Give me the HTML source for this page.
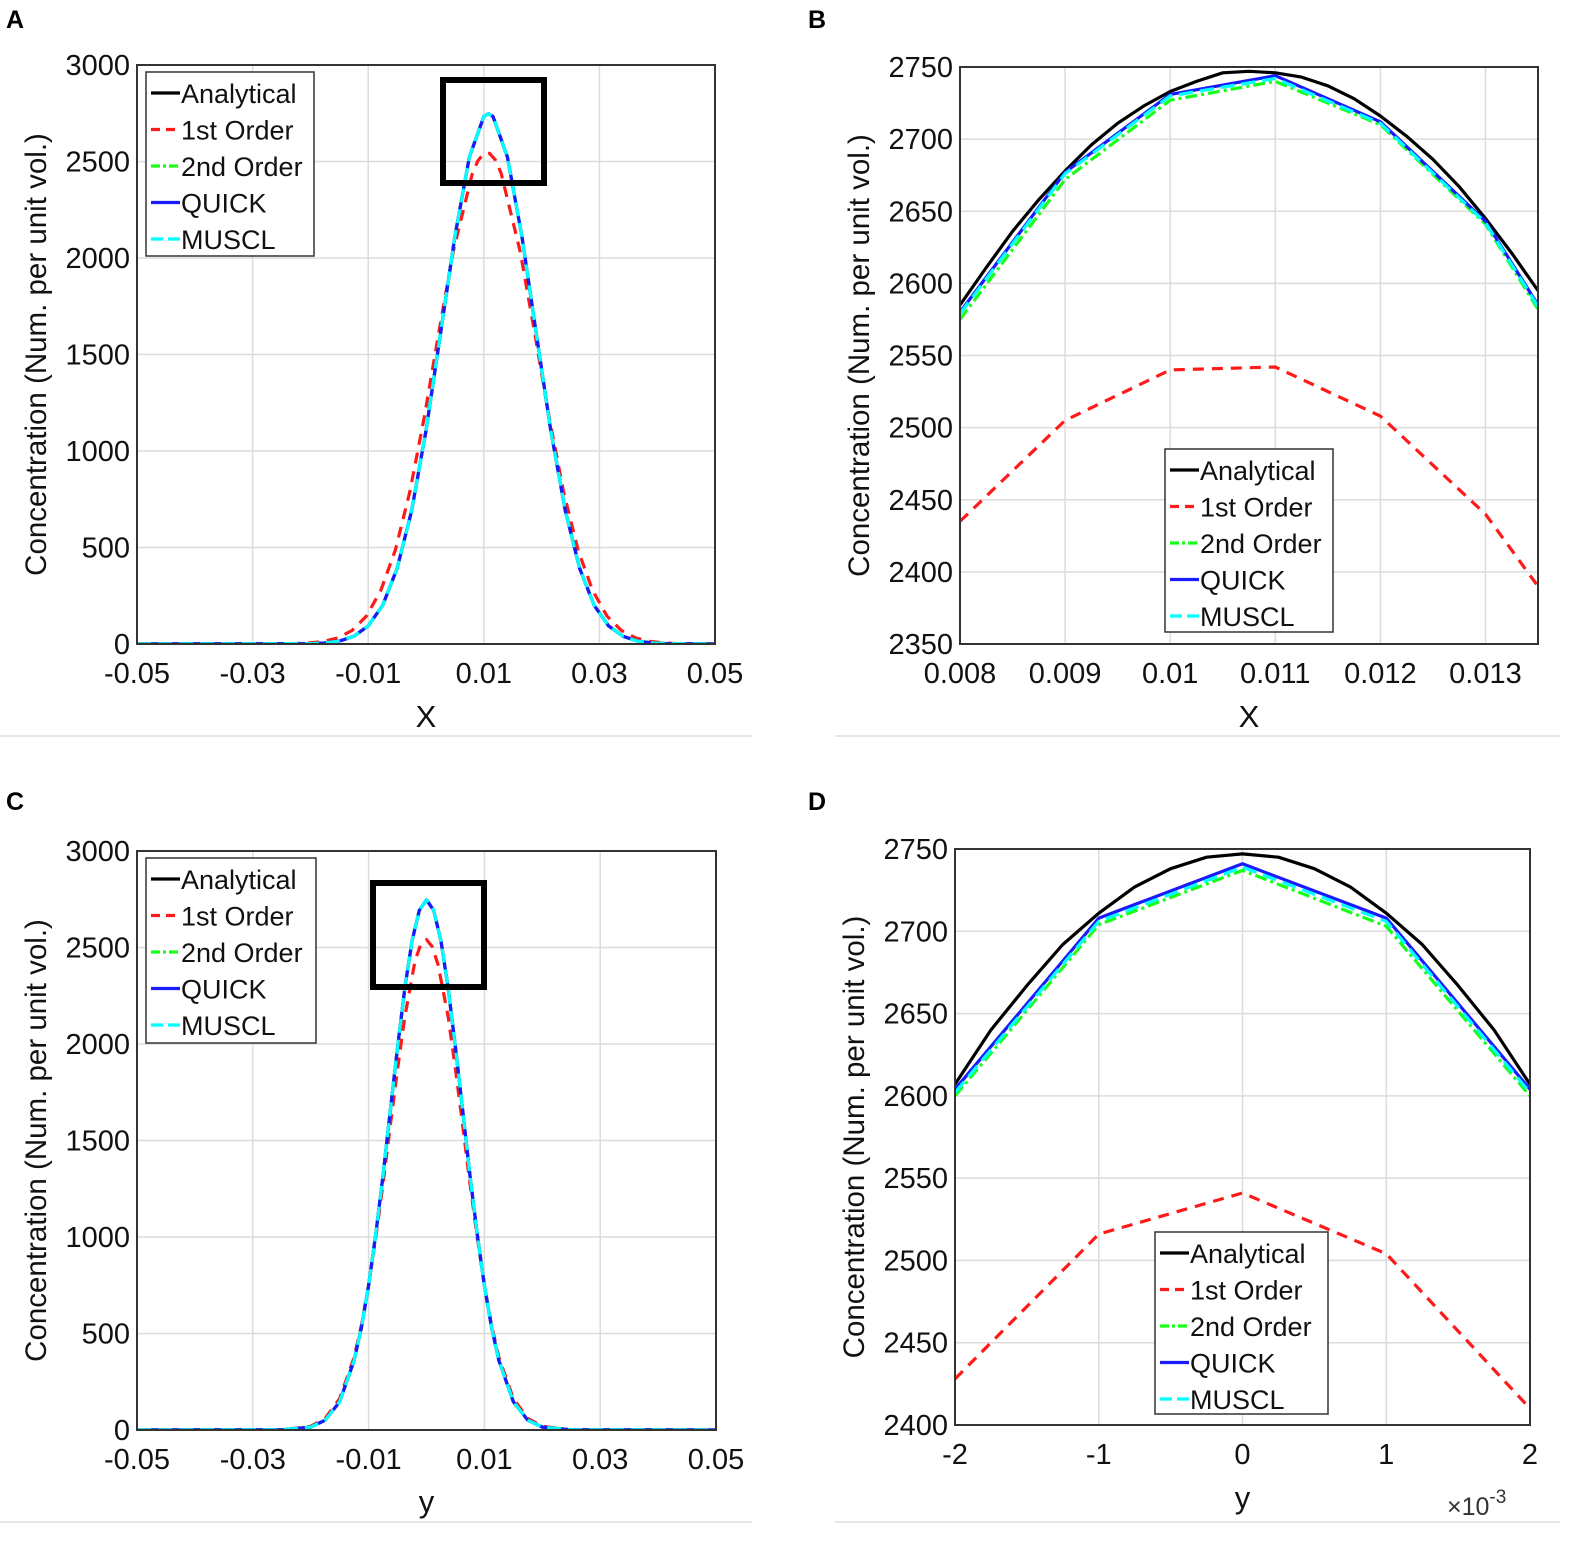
<!DOCTYPE html>
<html><head><meta charset="utf-8"><style>
body{margin:0;background:#fff}
svg{display:block;font-family:"Liberation Sans",Arial,sans-serif}
</style></head><body>
<svg id="fig" width="1581" height="1541" viewBox="0 0 1581 1541" xmlns="http://www.w3.org/2000/svg">
<line x1="0" y1="736" x2="752" y2="736" stroke="#e6e6e6" stroke-width="2"/>
<line x1="835" y1="736" x2="1560" y2="736" stroke="#e6e6e6" stroke-width="2"/>
<line x1="0" y1="1522" x2="752" y2="1522" stroke="#e6e6e6" stroke-width="2"/>
<line x1="835" y1="1522" x2="1560" y2="1522" stroke="#e6e6e6" stroke-width="2"/>
</svg>
<script>
// ---- Panel A data ----
const aX = [-0.05,-0.02,-0.0175,-0.015,-0.0125,-0.01,-0.0075,-0.005,-0.0025,0,0.0025,0.005,0.0075,0.01,0.0108,0.0116,0.0141,0.0166,0.0191,0.0216,0.0241,0.0266,0.0291,0.0316,0.0341,0.0366,0.0391,0.0416,0.05];
const aAnalytical = [0,2,5,15,40,94,200,391,690,1105,1604,2112,2522,2733,2747,2733,2522,2112,1604,1105,690,391,200,94,40,15,5,2,0];
const aFirstX = [-0.05,-0.025,-0.0203,-0.0178,-0.0153,-0.0128,-0.0103,-0.0078,-0.0053,-0.0028,-0.0003,0.0022,0.0047,0.008,0.009,0.010,0.011,0.012,0.013,0.0163,0.0188,0.0213,0.0238,0.0263,0.0288,0.0313,0.0338,0.0363,0.0388,0.0413,0.045,0.05];
const aFirst = [0,0,5,13,31,70,145,279,488,788,1176,1611,2033,2435,2505,2540,2542,2508,2440,2033,1611,1176,788,488,279,145,70,31,13,5,0,0];
// ---- Panel B data ----
const bXa = [0.008,0.00825,0.0085,0.00875,0.009,0.00925,0.0095,0.00975,0.010,0.01025,0.0105,0.01075,0.011,0.01125,0.0115,0.01175,0.012,0.01225,0.0125,0.01275,0.013,0.01325,0.0135];
const bAnalytical = [2585,2611,2636,2658,2678,2696,2711,2723,2733,2740,2746,2747,2746,2743,2737,2728,2716,2702,2686,2667,2645,2621,2595];
const bX = [0.008,0.009,0.010,0.011,0.012,0.013,0.0135];
const bFirst = [2435,2505,2540,2542,2508,2440,2390];
const bSecond = [2575,2672,2727,2740,2710,2641,2582];
const bQuick = [2580,2677,2731,2744,2712,2643,2585];
const bMuscl = [2579,2676,2730,2742,2711,2642,2584];
// ---- Panel C data ----
const cX = [-0.05,-0.025,-0.02,-0.0175,-0.015,-0.0125,-0.01125,-0.01,-0.00875,-0.0075,-0.00625,-0.005,-0.00375,-0.0025,-0.00125,0,0.00125,0.0025,0.00375,0.005,0.00625,0.0075,0.00875,0.01,0.01125,0.0125,0.015,0.0175,0.02,0.025,0.05];
const cAnalytical = [0,1,15,51,146,360,530,748,1016,1322,1655,1985,2288,2533,2692,2747,2692,2533,2288,1985,1655,1322,1016,748,530,360,146,51,15,1,0];
const cFirstX = [-0.05,-0.025,-0.02,-0.0175,-0.015,-0.0125,-0.01125,-0.01,-0.00875,-0.0075,-0.00625,-0.005,-0.00375,-0.002,-0.001,0,0.001,0.002,0.00375,0.005,0.00625,0.0075,0.00875,0.01,0.01125,0.0125,0.015,0.0175,0.02,0.025,0.05];
const cFirst = [0,0,19,60,162,376,542,750,999,1278,1577,1872,2140,2428,2516,2541,2504,2410,2140,1872,1577,1278,999,750,542,376,162,60,19,0,0];
// ---- Panel D data ----
const dXa = [-2,-1.75,-1.5,-1.25,-1,-0.75,-0.5,-0.25,0,0.25,0.5,0.75,1,1.25,1.5,1.75,2];
const dAnalytical = [2607,2640,2667,2692,2711,2727,2738,2745,2747,2745,2738,2727,2711,2692,2667,2640,2607];
const dX = [-2,-1,0,1,2];
const dFirst = [2428,2516,2541,2504,2410];
const dSecond = [2600,2704,2737,2703,2600];
const dQuick = [2604,2708,2741,2708,2604];
const dMuscl = [2602,2706,2739,2706,2602];

const NS="http://www.w3.org/2000/svg";
const svg=document.getElementById('fig');
function mk(tag,attrs,parent){const e=document.createElementNS(NS,tag);for(const k in attrs)e.setAttribute(k,attrs[k]);(parent||svg).appendChild(e);return e;}

const styles={
 analytical:{stroke:'#000',dash:''},
 first:{stroke:'#ff1a1a',dash:'11 8'},
 second:{stroke:'#1aff1a',dash:'12 4 3 4'},
 quick:{stroke:'#1a1aff',dash:''},
 muscl:{stroke:'#00ffff',dash:'14 7'}
};

function panel(p){
 const g=mk('g',{});
 
 
 const sx=v=>p.x0+(v-p.xmin)/(p.xmax-p.xmin)*(p.x1-p.x0);
 const sy=v=>p.y1-(v-p.ymin)/(p.ymax-p.ymin)*(p.y1-p.y0);
 p.xticks.forEach((t,i)=>{
  const x=sx(t);
  const gl=mk('line',{x1:x,y1:p.y0,x2:x,y2:p.y1,stroke:'#dcdcdc','stroke-width':1.5},g);
  
  
  const tk=mk('text',{x:x,y:p.y1+39,'font-size':29,'text-anchor':'middle',fill:'#111'},g);
  tk.textContent=p.xlabels[i];
  
  
 });
 p.yticks.forEach((t,i)=>{
  const y=sy(t);
  const gl=mk('line',{x1:p.x0,y1:y,x2:p.x1,y2:y,stroke:'#dcdcdc','stroke-width':1.5},g);
  
  
  const tk=mk('text',{x:p.x0-7,y:y+10,'font-size':29,'text-anchor':'end',fill:'#111'},g);
  tk.textContent=String(t);
  
  
 });
 const cid='clip'+p.letter;
 const cp=mk('clipPath',{id:cid},g);
 mk('rect',{x:p.x0,y:p.y0,width:p.x1-p.x0,height:p.y1-p.y0},cp);
 const sg=mk('g',{'clip-path':'url(#'+cid+')'},g);
 p.series.forEach(s=>{
  const st=styles[s.key];
  const d=s.xs.map((x,i)=>(i?'L':'M')+sx(x).toFixed(1)+','+sy(s.ys[i]).toFixed(1)).join('');
  const pa=mk('path',{d:d,fill:'none',stroke:st.stroke,'stroke-width':3.2,'stroke-linejoin':'round'},sg);
  if(st.dash)pa.setAttribute('stroke-dasharray',st.dash);
  
  
 });
 const fr=mk('rect',{x:p.x0,y:p.y0,width:p.x1-p.x0,height:p.y1-p.y0,fill:'none',stroke:'#333','stroke-width':2},g);
 
 
 if(p.zoombox){
  const zb=mk('rect',{x:p.zoombox[0],y:p.zoombox[1],width:p.zoombox[2],height:p.zoombox[3],fill:'none',stroke:'#000','stroke-width':6},g);
  
  
 }
 const L=p.legend;
 const lg=mk('g',{},g);
 
 
 mk('rect',{x:L[0],y:L[1],width:L[2],height:L[3],fill:'#fff',stroke:'#333','stroke-width':1.5},lg);
 const names=[['analytical','Analytical'],['first','1st Order'],['second','2nd Order'],['quick','QUICK'],['muscl','MUSCL']];
 names.forEach((n,i)=>{
  const y=L[1]+21+i*36.5;
  const st=styles[n[0]];
  const ln=mk('line',{x1:L[0]+5,y1:y,x2:L[0]+34,y2:y,stroke:st.stroke,'stroke-width':3.2},lg);
  if(st.dash)ln.setAttribute('stroke-dasharray',st.dash==='11 8'?'9 6':st.dash==='14 7'?'12 5':'9 3 3 3');
  
  
  const tx=mk('text',{x:L[0]+35,y:y+10,'font-size':27,fill:'#111'},lg);
  tx.textContent=n[1];
  
  
 });
 const xl=mk('text',{x:(p.x0+p.x1)/2,y:p.xlabY,'font-size':31,'text-anchor':'middle',fill:'#111'},g);
 xl.textContent=p.xlabel;
 
 
 const yx=p.ylabX, yy=(p.y0+p.y1)/2;
 const yl=mk('text',{x:yx,y:yy,'font-size':29.5,'text-anchor':'middle',fill:'#111',transform:'rotate(-90 '+yx+' '+yy+')'},g);
 yl.textContent='Concentration (Num. per unit vol.)';
 
 
 const pl=mk('text',{x:p.lx,y:p.ly,'font-size':25,'font-weight':'bold',fill:'#000'},g);
 pl.textContent=p.letter;
 
 
 return g;
}

const fullTicks=[-0.05,-0.03,-0.01,0.01,0.03,0.05];
const fullLabels=['-0.05','-0.03','-0.01','0.01','0.03','0.05'];
const fullY=[0,500,1000,1500,2000,2500,3000];

panel({name:'panel-a',letter:'A',lx:6,ly:28,x0:137,x1:715,y0:65,y1:644,xmin:-0.05,xmax:0.05,ymin:0,ymax:3000,
 xticks:fullTicks,xlabels:fullLabels,yticks:fullY,xlabel:'X',xlabY:727,ylabX:46,
 zoombox:[443,80,101,103],legend:[146,72,168,184],
 series:[{key:'first',xs:aFirstX,ys:aFirst},{key:'analytical',xs:aX,ys:aAnalytical},{key:'second',xs:aX,ys:aAnalytical},{key:'quick',xs:aX,ys:aAnalytical},{key:'muscl',xs:aX,ys:aAnalytical}]});

panel({name:'panel-b',letter:'B',lx:808,ly:28,x0:960,x1:1538,y0:67,y1:644,xmin:0.008,xmax:0.0135,ymin:2350,ymax:2750,
 xticks:[0.008,0.009,0.010,0.011,0.012,0.013],xlabels:['0.008','0.009','0.01','0.011','0.012','0.013'],
 yticks:[2350,2400,2450,2500,2550,2600,2650,2700,2750],xlabel:'X',xlabY:727,ylabX:869,
 legend:[1165,449,168,183],
 series:[{key:'analytical',xs:bXa,ys:bAnalytical},{key:'first',xs:bX,ys:bFirst},{key:'second',xs:bX,ys:bSecond},{key:'quick',xs:bX,ys:bQuick},{key:'muscl',xs:bX,ys:bMuscl}]});

panel({name:'panel-c',letter:'C',lx:6,ly:810,x0:137,x1:716,y0:851,y1:1430,xmin:-0.05,xmax:0.05,ymin:0,ymax:3000,
 xticks:fullTicks,xlabels:fullLabels,yticks:fullY,xlabel:'y',xlabY:1512,ylabX:46,
 zoombox:[373,883,111,104],legend:[146,858,170,185],
 series:[{key:'first',xs:cFirstX,ys:cFirst},{key:'analytical',xs:cX,ys:cAnalytical},{key:'second',xs:cX,ys:cAnalytical},{key:'quick',xs:cX,ys:cAnalytical},{key:'muscl',xs:cX,ys:cAnalytical}]});

panel({name:'panel-d',letter:'D',lx:808,ly:810,x0:955,x1:1530,y0:849,y1:1425,xmin:-2,xmax:2,ymin:2400,ymax:2750,
 xticks:[-2,-1,0,1,2],xlabels:['-2','-1','0','1','2'],
 yticks:[2400,2450,2500,2550,2600,2650,2700,2750],xlabel:'y',xlabY:1508,ylabX:864,
 legend:[1155,1232,173,182],
 series:[{key:'analytical',xs:dXa,ys:dAnalytical},{key:'first',xs:dX,ys:dFirst},{key:'second',xs:dX,ys:dSecond},{key:'quick',xs:dX,ys:dQuick},{key:'muscl',xs:dX,ys:dMuscl}]});

const ex=mk('text',{x:1447,y:1515,'font-size':25,fill:'#333'});


ex.innerHTML='×10<tspan dy="-12" font-size="19">-3</tspan>';
</script>
</body></html>
